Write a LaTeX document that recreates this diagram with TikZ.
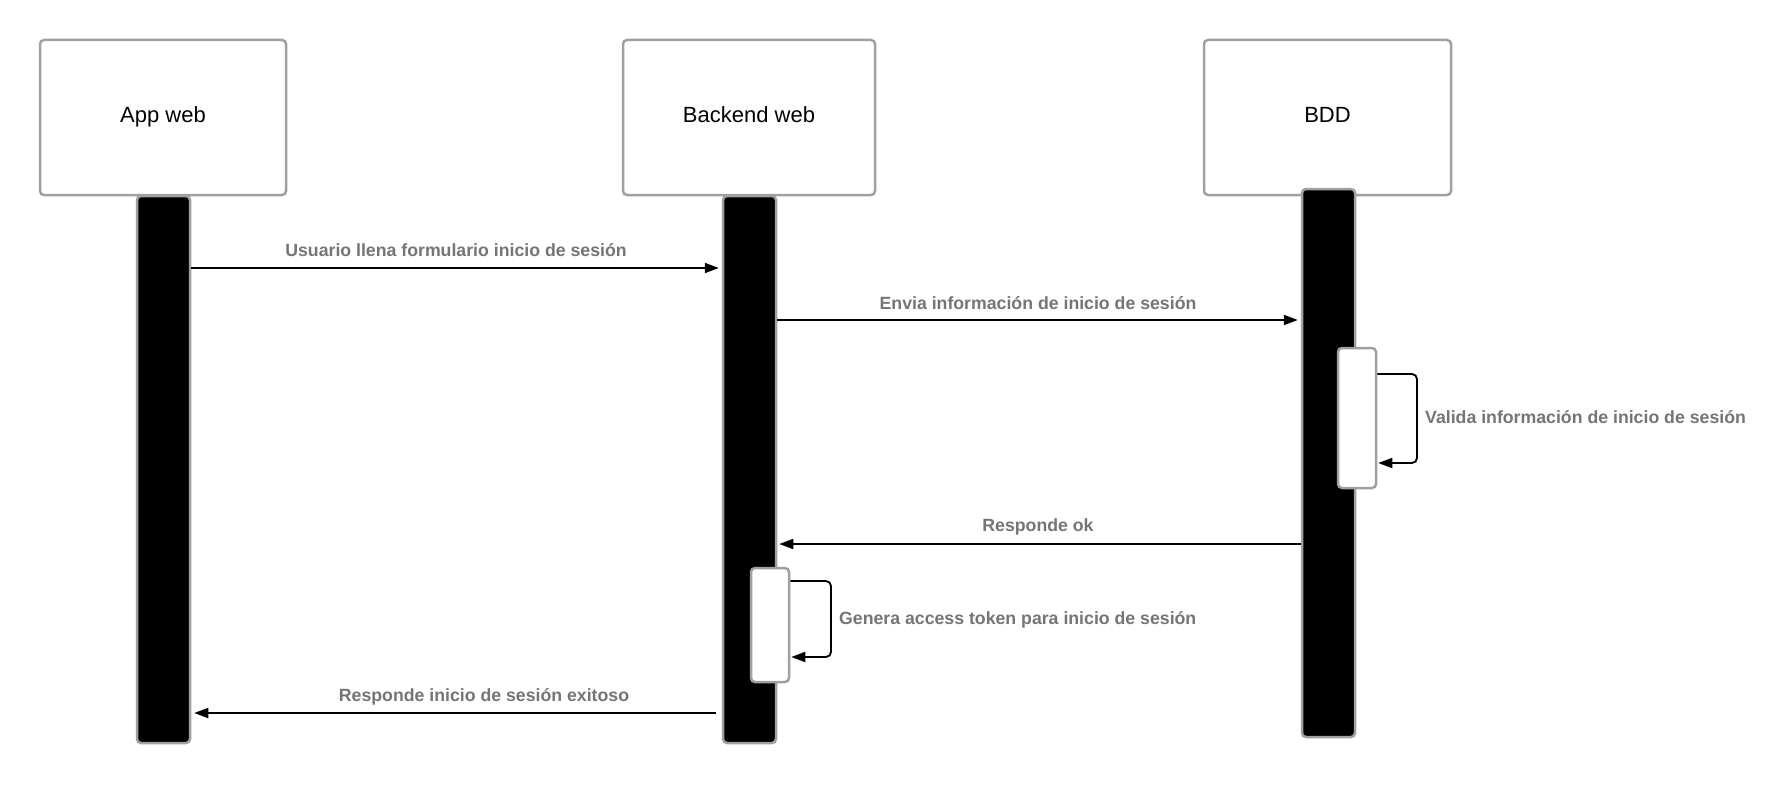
\documentclass[tikz,border=0pt]{standalone}
\usepackage{fontspec}
\setmainfont{Liberation Sans}
\usetikzlibrary{arrows.meta}
\definecolor{bordergray}{RGB}{160,160,160}
\definecolor{labelgray}{RGB}{117,117,117}
\begin{document}
\begin{tikzpicture}[x=1pt,y=-1pt,
 header/.style={draw=bordergray, line width=2.5pt, rounded corners=4pt, fill=white, inner sep=0pt, text height=14pt, text depth=5pt, font=\fontsize{22}{26}\selectfont},
 lifebar/.style={draw=bordergray, line width=2.5pt, rounded corners=4pt, fill=black, inner sep=0pt},
 actbox/.style={draw=bordergray, line width=2.5pt, rounded corners=4pt, fill=white, inner sep=0pt},
 msg/.style={-{Triangle[length=14pt,width=10pt]}, line width=1.8pt},
 lbl/.style={text=labelgray, font=\bfseries\fontsize{17.7}{21}\selectfont, inner sep=0pt}
]
\useasboundingbox (0,0) rectangle (1787,784);
\fill[white] (0,0) rectangle (1787,784);

% headers
\node[header, minimum width=246pt, minimum height=155pt] (app) at (163,117.5) {App web};
\node[header, minimum width=252pt, minimum height=155pt] (back) at (749,117.5) {Backend web};
\node[header, minimum width=247pt, minimum height=155pt] (bdd) at (1327.5,117.5) {BDD};

% lifelines
\node[lifebar, minimum width=53pt, minimum height=547pt] (appbar) at (163.5,469.5) {};
\node[lifebar, minimum width=53pt, minimum height=547pt] (backbar) at (749.5,469.5) {};
\node[lifebar, minimum width=53pt, minimum height=548pt] (bddbar) at (1328.5,463) {};

% activations
\node[actbox, minimum width=38pt, minimum height=140pt] (bddact) at (1357,418) {};
\node[actbox, minimum width=38pt, minimum height=114pt] (backact) at (770,625) {};

% message levels
\coordinate (y1) at (0,268);
\coordinate (y2) at (0,320);
\coordinate (y3) at (0,544);
\coordinate (y4) at (0,713);
\coordinate (s1a) at (0,374);
\coordinate (s1b) at (0,463);
\coordinate (s2a) at (0,581);
\coordinate (s2b) at (0,657);

% messages
\draw[msg] (appbar.east |- y1) -- ([xshift=-3pt]backbar.west |- y1);
\node[lbl, anchor=base] (l1) at (456,256) {Usuario llena formulario inicio de sesión};

\draw[msg] (backbar.east |- y2) -- ([xshift=-3pt]bddbar.west |- y2);
\node[lbl, anchor=base] (l2) at (1038,309) {Envia información de inicio de sesión};

\draw[msg] (bddbar.west |- y3) -- ([xshift=2pt]backbar.east |- y3);
\node[lbl, anchor=base] (l3) at (1038,531) {Responde ok};

\draw[msg] ([xshift=-6pt]backbar.west |- y4) -- ([xshift=3pt]appbar.east |- y4);
\node[lbl, anchor=base] (l4) at (484,701) {Responde inicio de sesión exitoso};

% self messages
\draw[msg, rounded corners=5pt] (bddact.east |- s1a) -- (1417,374) -- (1417,463) -- ([xshift=1pt]bddact.east |- s1b);
\node[lbl, anchor=base west] (l5) at (1425,423) {Valida información de inicio de sesión};

\draw[msg, rounded corners=5pt] (backact.east |- s2a) -- (831,581) -- (831,657) -- ([xshift=1pt]backact.east |- s2b);
\node[lbl, anchor=base west] (l6) at (839,624) {Genera access token para inicio de sesión};
\end{tikzpicture}
\end{document}
